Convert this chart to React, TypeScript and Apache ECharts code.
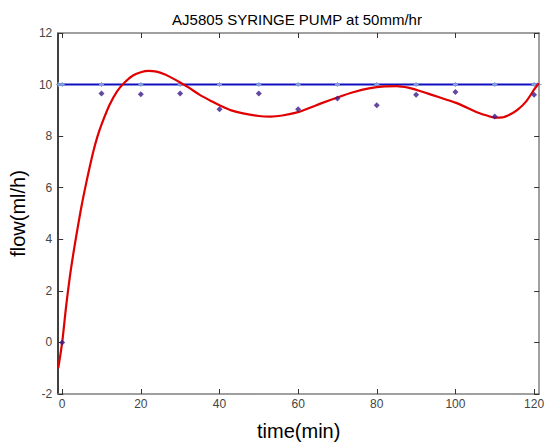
import React, { useEffect, useRef } from "react";
import * as echarts from "echarts";

const titleText = "AJ5805 SYRINGE PUMP at 50mm/hr";
const xName = "time(min)";
const yName = "flow(ml/h)";
const xTicks = [0, 20, 40, 60, 80, 100, 120];

const sampleTimes = [0, 10, 20, 30, 40, 50, 60, 70, 80, 90, 100, 110, 120];
const measuredFlow = [0, 9.65, 9.62, 9.65, 9.04, 9.65, 9.04, 9.46, 9.2, 9.61, 9.71, 8.76, 9.61];
const setFlow = 10;

const fitTimes = [-1, 0, 1, 2, 3, 4, 5, 6, 7, 8, 9, 10, 12, 14, 16, 18, 20, 22, 24, 26, 28, 30, 32, 35, 38, 40, 43, 46, 50, 53, 56, 60, 63, 66, 70, 74, 78, 82, 85, 88, 91, 94, 97, 100, 103, 106, 108, 110, 112, 114, 116, 118, 120, 121.2];
const fitFlow = [-1.0, 0.0, 1.4, 2.6, 3.6, 4.5, 5.35, 6.1, 6.8, 7.45, 8.0, 8.45, 9.2, 9.75, 10.1, 10.35, 10.48, 10.53, 10.5, 10.4, 10.25, 10.08, 9.9, 9.6, 9.35, 9.2, 9.0, 8.88, 8.78, 8.76, 8.8, 8.93, 9.1, 9.28, 9.5, 9.7, 9.85, 9.93, 9.94, 9.88, 9.75, 9.6, 9.45, 9.3, 9.1, 8.9, 8.8, 8.72, 8.73, 8.85, 9.05, 9.35, 9.8, 10.05];

const X_MIN = -1;
const X_MAX = 121.3;

export default function App() {
  const ref = useRef<HTMLDivElement>(null);
  useEffect(() => {
    if (!ref.current) return;
    const chart = echarts.init(ref.current, undefined, { renderer: "svg" });
    const font = "Arial, 'Liberation Sans', sans-serif";
    const setLine = [[X_MIN, setFlow], ...sampleTimes.map((t) => [t, setFlow]), [X_MAX, setFlow]];
    chart.setOption({
      animation: false,
      backgroundColor: "#ffffff",
      title: {
        text: titleText,
        left: 292,
        top: 7,
        textAlign: "center",
        textStyle: { fontFamily: font, fontSize: 15, fontWeight: "normal", color: "#000" },
      },
      grid: { left: 51, right: 4, top: 33, bottom: 45, containLabel: false },
      xAxis: [
        {
          type: "value",
          min: X_MIN,
          max: X_MAX,
          position: "bottom",
          name: xName,
          nameLocation: "middle",
          nameGap: 27,
          nameTextStyle: { fontFamily: font, fontSize: 20, color: "#000" },
          axisLine: { show: true, onZero: false, lineStyle: { color: "#808080", width: 1.5 } },
          axisTick: { show: true, inside: true, length: 5, customValues: xTicks, lineStyle: { color: "#333" } },
          axisLabel: { show: true, customValues: xTicks, margin: 4, fontFamily: font, fontSize: 12, color: "#444" },
          splitLine: { show: false },
        },
        {
          type: "value",
          min: X_MIN,
          max: X_MAX,
          position: "top",
          axisLine: { show: true, onZero: false, lineStyle: { color: "#808080", width: 1.5 } },
          axisTick: { show: true, inside: true, length: 5, customValues: xTicks, lineStyle: { color: "#333" } },
          axisLabel: { show: false },
          splitLine: { show: false },
        },
      ],
      yAxis: [
        {
          type: "value",
          min: -2,
          max: 12,
          interval: 2,
          position: "left",
          name: yName,
          nameLocation: "middle",
          nameGap: 26,
          nameRotate: 90,
          nameTextStyle: { fontFamily: font, fontSize: 20, color: "#000" },
          axisLine: { show: true, onZero: false, lineStyle: { color: "#000", width: 1.5 } },
          axisTick: { show: true, inside: true, length: 5, lineStyle: { color: "#333" } },
          axisLabel: { margin: 6, fontFamily: font, fontSize: 12, color: "#444" },
          splitLine: { show: false },
        },
        {
          type: "value",
          min: -2,
          max: 12,
          interval: 2,
          position: "right",
          axisLine: { show: true, onZero: false, lineStyle: { color: "#808080", width: 1.5 } },
          axisTick: { show: true, inside: true, length: 5, lineStyle: { color: "#333" } },
          axisLabel: { show: false },
          splitLine: { show: false },
        },
      ],
      series: [
        {
          type: "line",
          data: setLine,
          showSymbol: true,
          symbol: "path://M4,0L6,0L6,4L10,4L10,6L6,6L6,10L4,10L4,6L0,6L0,4L4,4Z",
          symbolSize: 5,
          itemStyle: { color: "#7fa7d8" },
          lineStyle: { color: "#1010c0", width: 2 },
          z: 2,
        },
        {
          type: "scatter",
          data: sampleTimes.map((t, i) => [t, measuredFlow[i]]),
          symbol: "diamond",
          symbolSize: 6,
          itemStyle: { color: "#3b1a8c" },
          z: 4,
        },
        {
          type: "line",
          data: fitTimes.map((t, i) => [t, fitFlow[i]]),
          smooth: 0.3,
          showSymbol: false,
          lineStyle: { color: "#e00000", width: 2.2 },
          z: 3,
        },
      ],
    });
    return () => chart.dispose();
  }, []);
  return (
    <div
      ref={ref}
      style={{ position: "fixed", left: 0, top: 0, width: 547, height: 446 }}
    />
  );
}
